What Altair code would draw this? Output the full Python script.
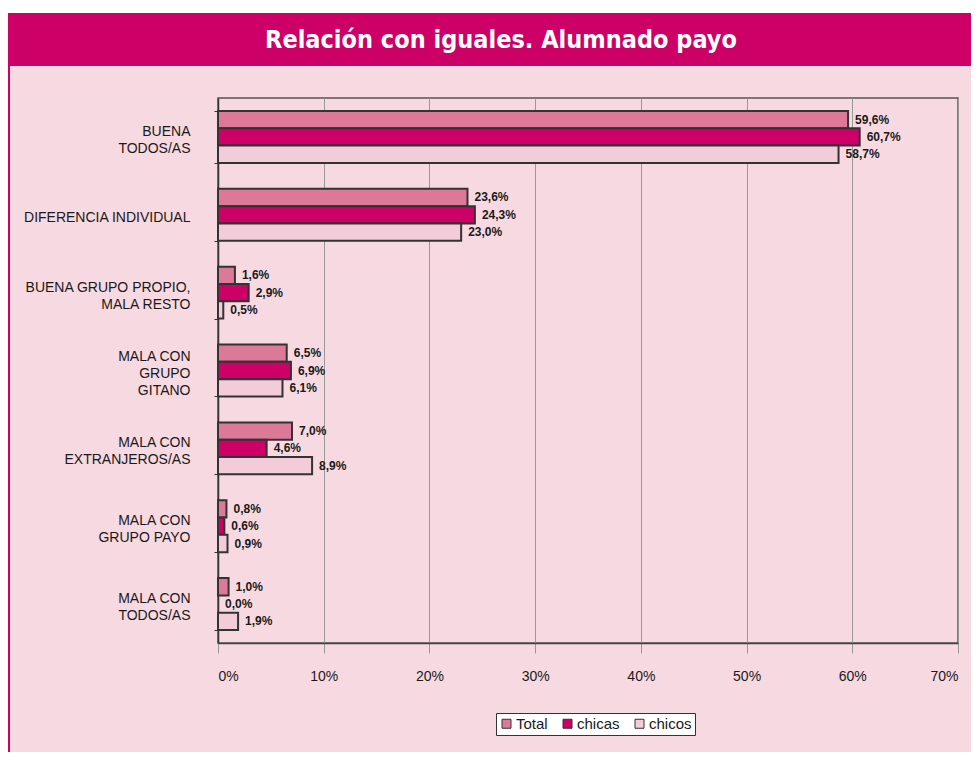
import altair as alt
import pandas as pd

categorias = [
    "BUENA|TODOS/AS",
    "DIFERENCIA INDIVIDUAL",
    "BUENA GRUPO PROPIO,|MALA RESTO",
    "MALA CON|GRUPO|GITANO",
    "MALA CON|EXTRANJEROS/AS",
    "MALA  CON|GRUPO PAYO",
    "MALA  CON|TODOS/AS",
]
series = ["Total", "chicas", "chicos"]
total = [59.6, 23.6, 1.6, 6.5, 7.0, 0.8, 1.0]
chicas = [60.7, 24.3, 2.9, 6.9, 4.6, 0.6, 0.0]
chicos = [58.7, 23.0, 0.5, 6.1, 8.9, 0.9, 1.9]
ticks_x = [0, 10, 20, 30, 40, 50, 60, 70]
colores = ["#DC7898", "#CC0066", "#F2CCD8"]
titulo = "Relación con iguales. Alumnado payo"

rows = []
for i, c in enumerate(categorias):
    for s, vals in zip(series, [total, chicas, chicos]):
        v = vals[i]
        rows.append({"categoria": c, "serie": s, "valor": v,
                     "etiqueta": f"{v:.1f}".replace(".", ",") + "%"})
df = pd.DataFrame(rows)

W, H = 740, 545
PL, PT = 210, 90
TW, TH = 963, 744
LH = 17

nlines = "length(split(datum.value, '|'))"
y = alt.Y("categoria:N", sort=categorias, title=None,
          scale=alt.Scale(paddingInner=0.333, paddingOuter=0.1667),
          axis=alt.Axis(labelExpr="split(datum.label, '|')", labelFontSize=14,
                        labelFont="Liberation Sans", labelColor="#1a1a1a",
                        labelLineHeight=LH, labelPadding=24, tickSize=4,
                        tickBand="extent", domainColor="#333", tickColor="#333",
                        domainWidth=1.5, labelLimit=300,
                        labelOffset={"condition": [
                            {"test": nlines + " == 1", "value": 3},
                            {"test": nlines + " == 3", "value": 3 - LH}],
                            "value": 3 - LH / 2}))
yoff = alt.YOffset("serie:N", sort=series,
                   scale=alt.Scale(paddingInner=0, paddingOuter=0))
x = alt.X("valor:Q", title=None, scale=alt.Scale(domain=[0, 70], nice=False),
          axis=alt.Axis(values=ticks_x, labelExpr="datum.value + '%'", grid=True,
                        gridColor="#999", gridWidth=1, tickSize=10, tickColor="#999",
                        domainColor="#444", domainWidth=1.5, labelPadding=16,
                        labelFontSize=14, labelFont="Liberation Sans",
                        labelColor="#1a1a1a"))
color = alt.Color("serie:N", sort=series,
                  scale=alt.Scale(domain=series, range=colores),
                  legend=alt.Legend(orient="none", legendX=278, legendY=615,
                                    direction="horizontal", fillColor="white",
                                    strokeColor="#333", padding=3, title=None,
                                    symbolType="square", symbolSize=81,
                                    symbolStrokeColor="#333", symbolStrokeWidth=1,
                                    symbolOpacity=1,
                                    labelFontSize=15, labelFont="Liberation Sans",
                                    labelColor="#1a1a1a", labelOffset=2,
                                    columnPadding=12))

base = alt.Chart(df)
bars = base.transform_filter("datum.valor > 0").mark_bar(
    stroke="#333", strokeWidth=2, opacity=1).encode(y=y, yOffset=yoff, x=x, color=color)
labels = base.mark_text(align="left", baseline="middle", dx=7, fontSize=12,
                        fontWeight="bold", font="Liberation Sans",
                        color="#1a1a1a").encode(y=y, yOffset=yoff, x=x,
                                                text="etiqueta:N")

deco = alt.Chart(pd.DataFrame({"d": [0]}))
strip = deco.mark_rect(color="white").encode(
    x=alt.value(-PL), x2=alt.value(TW - PL), y=alt.value(-PT), y2=alt.value(-85))
header = deco.mark_rect(color="#CC0066").encode(
    x=alt.value(-PL), x2=alt.value(TW - PL), y=alt.value(-85), y2=alt.value(-32))
leftline = deco.mark_rect(color="#CC0066").encode(
    x=alt.value(-PL), x2=alt.value(-PL + 2), y=alt.value(-32), y2=alt.value(TH - PT))
title = deco.mark_text(text=titulo, font="DejaVu Sans Condensed", fontWeight="bold",
                       fontSize=25, color="white", align="center",
                       baseline="middle").encode(x=alt.value(283), y=alt.value(-58))

chart = alt.layer(strip, header, leftline, title, bars, labels).properties(
    width=W, height=H,
    autosize=alt.AutoSizeParams(type="none"),
    padding={"left": PL, "top": PT, "right": TW - PL - W, "bottom": TH - PT - H},
).configure(background="#F7D9E1").configure_view(stroke="#555", strokeWidth=1.5)

chart.save("out.html", embed_options={"renderer": "svg", "actions": False})
